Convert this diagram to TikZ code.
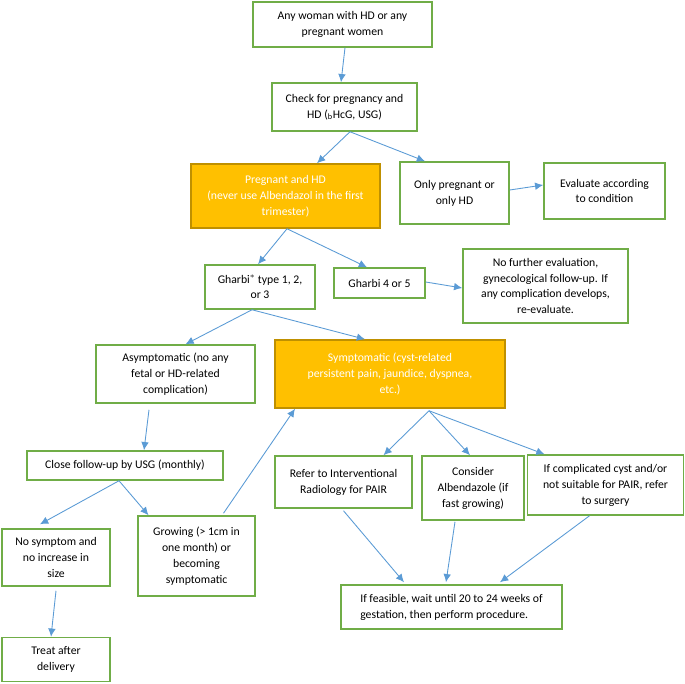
\documentclass[tikz,border=0pt]{standalone}
\usepackage{fontspec}
\setmainfont{Carlito}
\usetikzlibrary{arrows.meta, calc}
\definecolor{boxgreen}{HTML}{70AD47}
\definecolor{gold}{HTML}{FFC000}
\definecolor{golddark}{HTML}{BF9000}
\definecolor{arrowblue}{HTML}{5B9BD5}
\tikzset{
  stepbox/.style={rectangle, draw=boxgreen, line width=1.3pt, fill=white, align=center,
                  font=\fontsize{10}{13.6}\selectfont, inner sep=2pt},
  keybox/.style={rectangle, draw=golddark, line width=1.3pt, fill=gold, text=white, align=center,
                 font=\fontsize{10}{13.6}\selectfont, inner sep=2pt},
  arrow/.style={line width=0.75pt,->,>={Latex[length=7pt,width=6.5pt]},color=arrowblue}
}
\begin{document}
\begin{tikzpicture}[x=0.03cm, y=-0.03cm]
  \useasboundingbox (0,0) rectangle (685,683);
  % top of the chart
  \node (start) [stepbox, minimum width=5.37cm, minimum height=1.35cm] at (342.5,24.5) {Any woman with HD or any\\ pregnant women};
  \node (check) [stepbox, minimum width=4.35cm, minimum height=1.44cm] at (344.5,107) {Check for pregnancy and\\ HD (\textsubscript{b}HcG, USG)};
  \node (both) [keybox, minimum width=5.67cm, minimum height=1.92cm] at (285.5,196) {Pregnant and HD\\ (never use Albendazol in the first\\ trimester)};
  \node (only) [stepbox, minimum width=3.27cm, minimum height=1.86cm] at (454.5,193) {Only pregnant or\\ only HD};
  \node (evaluate) [stepbox, minimum width=3.63cm, minimum height=1.68cm] at (604.5,191) {Evaluate according\\ to condition};
  % Gharbi types
  \node (gharbilow) [stepbox, minimum width=3.30cm, minimum height=1.32cm] at (260,287) {Gharbi$^{*}$ type 1, 2,\\ or 3};
  \node (gharbihigh) [stepbox, minimum width=2.73cm, minimum height=0.90cm] at (379.5,283) {Gharbi 4 or 5};
  \node (nofurther) [stepbox, minimum width=4.95cm, minimum height=2.22cm] at (545.5,286) {No further evaluation,\\ gynecological follow-up. If\\ any complication develops,\\ re-evaluate.};
  % asymptomatic branch
  \node (asympt) [stepbox, minimum width=4.77cm, minimum height=1.74cm] at (175.5,374) {Asymptomatic (no any\\ fetal or HD-related\\ complication)};
  \node (sympt) [keybox, minimum width=6.90cm, minimum height=2.04cm] at (390,374) {Symptomatic (cyst-related\\ persistent pain, jaundice, dyspnea,\\ etc.)};
  \node (followup) [stepbox, minimum width=5.88cm, minimum height=0.87cm] at (125,465.5) {Close follow-up by USG (monthly)};
  \node (nosymptom) [stepbox, minimum width=3.24cm, minimum height=1.71cm] at (56,557.5) {No symptom and\\ no increase in\\ size};
  \node (growing) [stepbox, minimum width=3.51cm, minimum height=2.40cm] at (196.5,556) {Growing (> 1cm in\\ one month) or\\ becoming\\ symptomatic};
  \node (treat) [stepbox, minimum width=3.24cm, minimum height=1.32cm] at (56,659.5) {Treat after\\ delivery};
  % symptomatic branch
  \node (pair) [stepbox, minimum width=4.11cm, minimum height=1.56cm] at (343.5,482) {Refer to Interventional\\ Radiology for PAIR};
  \node (albend) [stepbox, minimum width=3.06cm, minimum height=1.92cm] at (473,488) {Consider\\ Albendazole (if\\ fast growing)};
  \node (surgery) [stepbox, minimum width=4.68cm, minimum height=1.80cm] at (605.5,485) {If complicated cyst and/or\\ not suitable for PAIR, refer\\ to surgery};
  \node (wait) [stepbox, minimum width=6.63cm, minimum height=1.32cm, align=left] at (451.5,607) {If feasible, wait until 20 to 24 weeks of\\ gestation, then perform procedure.};
  % connectors
  \draw [arrow] ($(start.south)+(2.5,0)$) -- ($(check.north)+(-3.5,0)$);
  \draw [arrow] ($(check.south)+(5.5,0)$) -- ($(both.north)+(31.5,0)$);
  \draw [arrow] ($(check.south)+(5.5,0)$) -- ($(only.north)+(-29.5,0)$);
  \draw [arrow] ($(only.east)+(0,-3)$) -- ($(evaluate.west)+(0,-6)$);
  \draw [arrow] ($(both.south)+(1.5,0)$) -- ($(gharbilow.north)+(-2,0)$);
  \draw [arrow] ($(both.south)+(1.5,0)$) -- ($(gharbihigh.north)+(-12.5,0)$);
  \draw [arrow] ($(gharbihigh.east)+(0,-1)$) -- ($(nofurther.west)+(0,2)$);
  \draw [arrow] ($(gharbilow.south)+(-8,0)$) -- ($(asympt.north)+(10,0)$);
  \draw [arrow] ($(gharbilow.south)+(-8,0)$) -- ($(sympt.north)+(-25,0)$);
  \draw [arrow] ($(asympt.south)+(-26.5,6)$) -- ($(followup.north)+(19,0)$);
  \draw [arrow] ($(followup.south)+(-6,0)$) -- ($(nosymptom.north)+(-16,-4)$);
  \draw [arrow] ($(followup.south)+(-6,0)$) -- ($(growing.north)+(-48,0)$);
  \draw [arrow] ($(growing.north)+(27,-2)$) -- ($(sympt.south)+(-95,0)$);
  \draw [arrow] ($(nosymptom.south)+(0,4)$) -- ($(treat.north)+(-5,0)$);
  \draw [arrow] ($(sympt.south)+(39,2)$) -- ($(pair.north)+(40,0)$);
  \draw [arrow] ($(sympt.south)+(39,2)$) -- ($(albend.north)+(-3,0)$);
  \draw [arrow] ($(sympt.south)+(39,2)$) -- ($(surgery.north)+(-61,0)$);
  \draw [arrow] ($(pair.south)+(0,2)$) -- ($(wait.north)+(-47.5,-2)$);
  \draw [arrow] ($(albend.south)+(-18,1)$) -- ($(wait.north)+(-5.5,-2)$);
  \draw [arrow] ($(surgery.south)+(-16,0)$) -- ($(wait.north)+(48.5,-2)$);
\end{tikzpicture}
\end{document}
